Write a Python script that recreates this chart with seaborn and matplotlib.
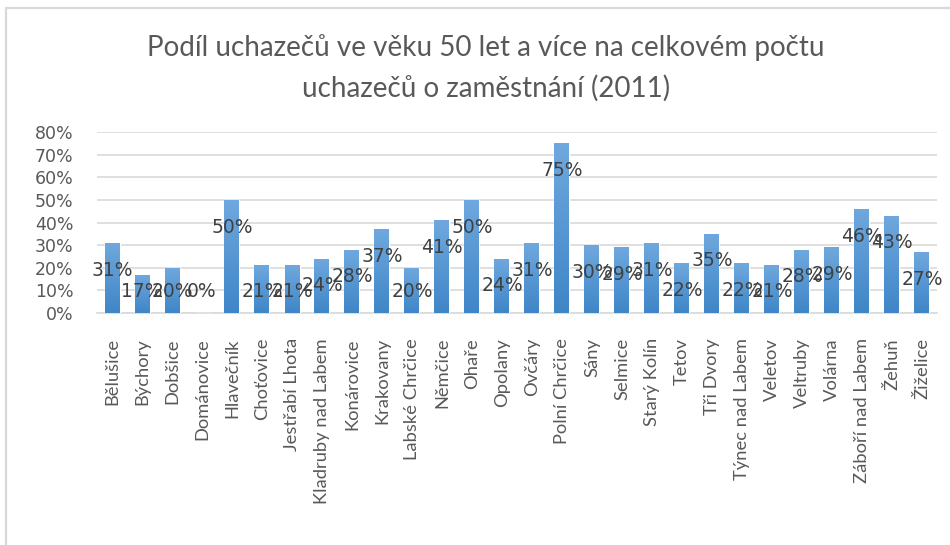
import numpy as np
import pandas as pd
import seaborn as sns
import matplotlib.pyplot as plt
from matplotlib.patches import Rectangle
from matplotlib.colors import LinearSegmentedColormap

obce = ['Bělušice', 'Býchory', 'Dobšice', 'Dománovice', 'Hlavečník', 'Choťovice',
        'Jestřabí Lhota', 'Kladruby nad Labem', 'Konárovice', 'Krakovany',
        'Labské Chrčice', 'Němčice', 'Ohaře', 'Opolany', 'Ovčáry', 'Polní Chrčice',
        'Sány', 'Selmice', 'Starý Kolín', 'Tetov', 'Tři Dvory', 'Týnec nad Labem',
        'Veletov', 'Veltruby', 'Volárna', 'Záboří nad Labem', 'Žehuň', 'Žiželice']
podil = [31, 17, 20, 0, 50, 21, 21, 24, 28, 37, 20, 41, 50, 24, 31, 75,
         30, 29, 31, 22, 35, 22, 21, 28, 29, 46, 43, 27]
yticks = [0, 10, 20, 30, 40, 50, 60, 70, 80]

df = pd.DataFrame({'obec': obce, 'podil': np.array(podil) / 100})

sns.set_style('white')
plt.rcParams['font.family'] = ['DejaVu Sans']

fig = plt.figure(figsize=(9.5, 5.45), dpi=100)
fig.patches.append(Rectangle((6 / 950, -0.1), 1.2, 1 - 8 / 545 + 0.1, transform=fig.transFigure,
                             fill=False, edgecolor='#d9d9d9', linewidth=1.6, zorder=0))
ax = fig.add_axes([97 / 950, 1 - 313 / 545, (937 - 97) / 950, (313 - 132) / 545])

sns.barplot(data=df, x='obec', y='podil', color='#5b9bd5', width=0.5, ax=ax,
            saturation=1, zorder=3)

# svisly gradient na sloupcich
cmap = LinearSegmentedColormap.from_list('g', ['#3f86c8', '#6fa8de'])
grad = np.linspace(0, 1, 100).reshape(-1, 1)
for bar in ax.patches:
    x0, w, h = bar.get_x(), bar.get_width(), bar.get_height()
    if h <= 0:
        continue
    im = ax.imshow(grad, cmap=cmap, origin='lower', aspect='auto',
                   extent=[x0, x0 + w, 0, h], zorder=4)
    im.set_clip_path(bar)

ax.set_xlim(-0.5, len(obce) - 0.5)
ax.set_ylim(0, 0.8)
ax.set_yticks([t / 100 for t in yticks])
ax.set_yticklabels([f'{t}%' for t in yticks], fontsize=12.5, color='#595959')
ax.yaxis.grid(True, color='#d9d9d9', linewidth=1.2, zorder=0)
ax.set_axisbelow(True)
ax.tick_params(axis='y', length=0, pad=17)
ax.tick_params(axis='x', length=0, pad=18)
ax.set_xticks(range(len(obce)))
ax.set_xticklabels(obce, rotation=90, fontsize=13.2, color='#595959',
                   family='Lato', va='top', ha='center')
ax.set_xlabel('')
ax.set_ylabel('')
for s in ['top', 'right', 'left']:
    ax.spines[s].set_visible(False)
ax.spines['bottom'].set_color('#d9d9d9')
ax.spines['bottom'].set_linewidth(1.2)

# popisky hodnot
for i, v in enumerate(df['podil']):
    ax.text(i, max(v - 0.12, 0.093), f'{round(v * 100)}%', ha='center', va='center',
            fontsize=13.5, color='#404040', zorder=6)

fig.text(486 / 950, 1 - 48 / 545, 'Podíl uchazečů ve věku 50 let a více na celkovém počtu',
         ha='center', va='center', fontsize=20, color='#595959', family='Lato')
fig.text(486 / 950, 1 - 88 / 545, 'uchazečů o zaměstnání (2011)',
         ha='center', va='center', fontsize=20, color='#595959', family='Lato')

fig.savefig('out.png', dpi=100)
